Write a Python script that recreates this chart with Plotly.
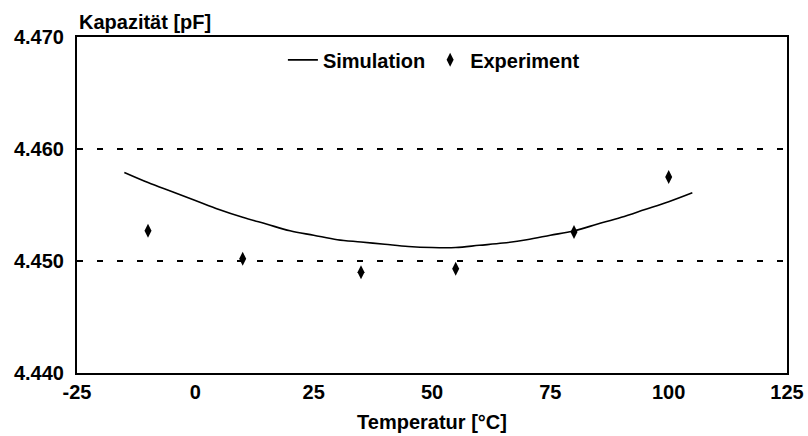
import plotly.graph_objects as go

# Simulation curve
sim_temp = [-15, -10, -5, 0, 5, 10, 15, 20, 25, 30, 35, 40, 45, 50, 55,
            60, 65, 70, 75, 80, 85, 90, 95, 100, 105]
sim_cap = [4.4579, 4.4570, 4.4562, 4.4554, 4.4546, 4.4539, 4.4533, 4.4527,
           4.4523, 4.4519, 4.4517, 4.4515, 4.4513, 4.4512, 4.4512, 4.4514,
           4.4516, 4.4519, 4.4523, 4.4527, 4.4533, 4.4539, 4.4546, 4.4553,
           4.4561]

# Experiment points
exp_temp = [-10, 10, 35, 55, 80, 100]
exp_cap = [4.4527, 4.4502, 4.4490, 4.4493, 4.4526, 4.4575]

x_ticks = [-25, 0, 25, 50, 75, 100, 125]
y_ticks = [4.440, 4.450, 4.460, 4.470]

FONT = "Liberation Sans, Arial, sans-serif"

fig = go.Figure()
fig.add_trace(go.Scatter(
    x=sim_temp, y=sim_cap, mode="lines", name="Simulation",
    line=dict(color="black", width=1.6), line_shape="spline",
))
fig.add_trace(go.Scatter(
    x=exp_temp, y=exp_cap, mode="markers", name="Experiment",
    marker=dict(symbol="diamond-tall", size=10, color="black"),
))

fig.update_layout(
    width=808, height=436,
    margin=dict(l=77, r=21, t=37, b=63, autoexpand=False),
    plot_bgcolor="white", paper_bgcolor="white",
    font=dict(family=FONT, size=20, color="black", weight="bold"),
    showlegend=True,
    legend=dict(
        orientation="h", x=0.29, y=0.99, xanchor="left", yanchor="top",
        bgcolor="rgba(0,0,0,0)", font=dict(size=20, weight="bold"),
        itemwidth=30, tracegroupgap=0,
    ),
    annotations=[dict(
        text="Kapazität [pF]", xref="paper", yref="paper", x=0, y=1,
        xanchor="left", yanchor="bottom", showarrow=False, yshift=2,
        font=dict(size=20, weight="bold"),
    )],
)
fig.update_xaxes(
    range=[-25, 125], tickvals=x_ticks, ticktext=[str(v) for v in x_ticks],
    showgrid=False, zeroline=False, showline=True, linecolor="black",
    linewidth=2, mirror=True, ticks="", ticklen=0,
    tickfont=dict(size=20, weight="bold"),
    title=dict(text="Temperatur [°C]", font=dict(size=20, weight="bold"), standoff=13),
)
fig.update_yaxes(
    range=[4.440, 4.470], tickvals=y_ticks, ticktext=[f"{v:.3f}" for v in y_ticks],
    showgrid=True, gridcolor="black", gridwidth=1.5, griddash="6px,14px",
    zeroline=False, showline=True, linecolor="black", linewidth=2, mirror=True,
    ticks="", ticklabelstandoff=7, tickfont=dict(size=20, weight="bold"),
)

fig.write_html("out.html", config={"displayModeBar": False},
               post_script="document.body.style.margin='0';")
